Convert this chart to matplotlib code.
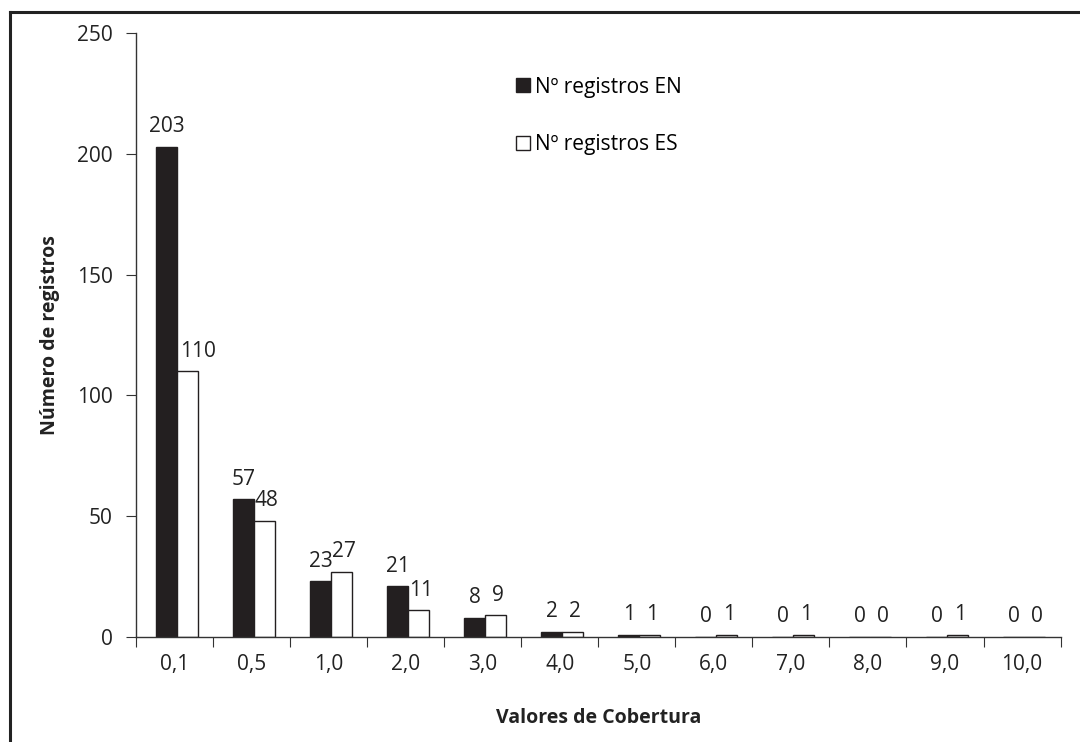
import matplotlib.pyplot as plt
from matplotlib.lines import Line2D
import numpy as np

plt.rcParams['font.family'] = ['Open Sans', 'DejaVu Sans']

categorias = ["0,1", "0,5", "1,0", "2,0", "3,0", "4,0", "5,0", "6,0", "7,0", "8,0", "9,0", "10,0"]
registros_en = [203, 57, 23, 21, 8, 2, 1, 0, 0, 0, 0, 0]
registros_es = [110, 48, 27, 11, 9, 2, 1, 1, 1, 0, 1, 0]

fig = plt.figure(figsize=(10.8, 7.42), dpi=100)
ax = fig.add_axes([0.126, 0.1415, 0.856, 0.814])

x = np.arange(len(categorias))
w = 0.273
b1 = ax.bar(x - w / 2 + 0.03, registros_en, w, color='#231f20', edgecolor='#231f20', linewidth=1,
            label='Nº registros EN')
b2 = ax.bar(x + w / 2 + 0.03, registros_es, w, color='white', edgecolor='#231f20', linewidth=1,
            label='Nº registros ES')
ax.bar_label(b1, padding=7, fontsize=15, color='#222222')
lab_es = ax.bar_label(b2, padding=7, fontsize=15, color='#222222')
for t in lab_es:
    t.xyann = (1.5, 7)
# the tall first label would run into the EN bar: Excel pushes it right
lab_es[0].set_ha('left')
lab_es[0].xy = (x[0] + 0.03, registros_es[0])
lab_es[0].xyann = (2, 7)

ax.set_xlim(-0.5, len(categorias) - 0.5)
ax.set_ylim(0, 250)
ax.set_yticks(range(0, 251, 50))
ax.set_xticks(np.arange(len(categorias) + 1) - 0.5)
ax.set_xticklabels([])
ax.set_xticks(x, minor=True)
ax.set_xticklabels(categorias, minor=True)
ax.tick_params(axis='x', which='major', direction='out', length=7, color='#333333')
ax.tick_params(axis='x', which='minor', length=0, pad=12, labelsize=15, labelcolor='#222222')
ax.tick_params(axis='y', direction='out', length=7, pad=10, color='#333333',
               labelsize=15, labelcolor='#222222')

for s in ['top', 'right']:
    ax.spines[s].set_visible(False)
for s in ['left', 'bottom']:
    ax.spines[s].set_color('#333333')
    ax.spines[s].set_linewidth(1)

ax.set_ylabel('Número de registros', fontsize=14, fontweight='bold', labelpad=12, color='#222222')
ax.set_xlabel('Valores de Cobertura', fontsize=14, fontweight='bold', labelpad=24, color='#222222')

ax.legend(loc='upper left', bbox_to_anchor=(0.4, 0.945), frameon=False, fontsize=15,
          handlelength=0.65, handleheight=0.65, handletextpad=0.25, labelspacing=1.75,
          borderpad=0)

# outer frame (top and left edges visible)
fig.add_artist(Line2D([0.009, 1.0], [0.984, 0.984], color='#222222', lw=2.2))
fig.add_artist(Line2D([0.009, 0.009], [0.0, 0.984], color='#222222', lw=2.2))

fig.savefig('out.png', dpi=100)
